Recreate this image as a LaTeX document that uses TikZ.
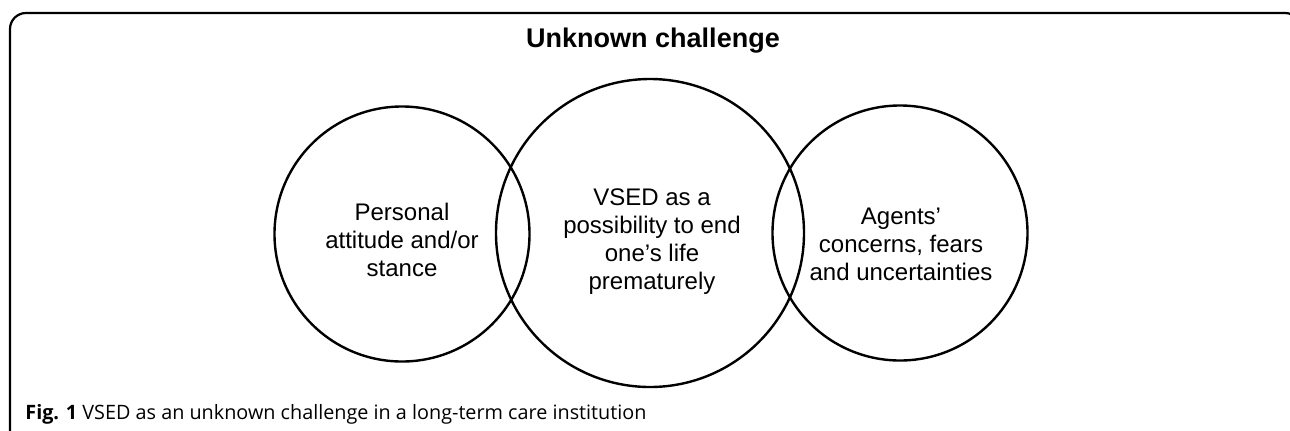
\documentclass[tikz,border=0pt]{standalone}
\usepackage{fontspec}
\setmainfont{Liberation Sans}
\newfontfamily\capfont{Open Sans}
\begin{document}
\begin{tikzpicture}[x=0.5pt,y=-0.5pt,
  ring/.style={circle, draw, line width=1.2pt, inner sep=0pt},
  ringtext/.style={align=center, font=\fontsize{12}{14}\selectfont}]
\useasboundingbox (0,0) rectangle (1290,430);
\coordinate (P) at (402,234);
\coordinate (V) at (650,233);
\coordinate (A) at (900,233);
% frame, only top and left sides show
\begin{scope}
\clip (0,0) rectangle (1290,430);
\draw[line width=1.1pt, rounded corners=8] (10,440) |- (1301,13) -- (1301,40);
\end{scope}
\node[font=\bfseries\fontsize{13.5}{15}\selectfont] (title) at (653,41) {Unknown challenge};
\node[ring, minimum size=127.5pt] (attitude) at (P) {};
\node[ring, minimum size=154pt] (vsed) at (V) {};
\node[ring, minimum size=127.5pt] (agents) at (A) {};
\node[ringtext] (attitudetext) at (402,240) {Personal\\attitude and/or\\stance};
\node[ringtext] (vsedtext) at (652,241.5) {VSED as a\\possibility to end\\one’s life\\prematurely};
\node[ringtext] (agentstext) at (901,244) {Agents’\\concerns, fears\\and uncertainties};
\node[anchor=base west, inner sep=0pt, font=\capfont\fontsize{9.9}{11}\selectfont] (caption) at (25,419)
  {\textbf{Fig. 1} VSED as an unknown challenge in a long-term care institution};
\end{tikzpicture}
\end{document}
